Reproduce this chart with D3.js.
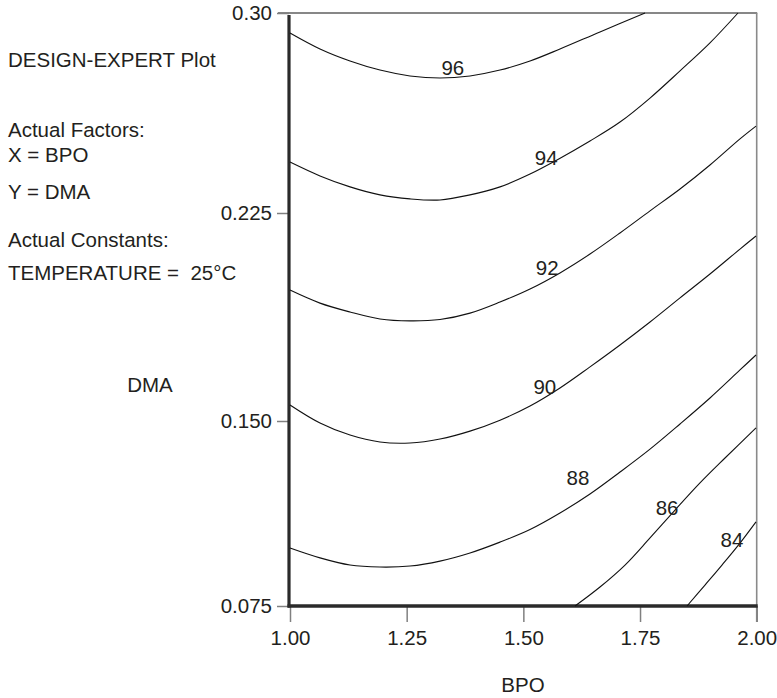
<!DOCTYPE html>
<html>
<head>
<meta charset="utf-8">
<script src="https://cdn.jsdelivr.net/npm/d3@7"></script>
<style>
  html, body { margin: 0; padding: 0; background: #fff; }
  svg { display: block; font-family: "Liberation Sans", Arial, sans-serif; }
</style>
</head>
<body>
<svg id="chart" width="777" height="698"></svg>
<script>
// Axis ticks
const bpoTicks = [1.00, 1.25, 1.50, 1.75, 2.00];
const bpoTickLabels = ["1.00", "1.25", "1.50", "1.75", "2.00"];
const dmaTicks = [0.075, 0.150, 0.225, 0.30];
const dmaTickLabels = ["0.075", "0.150", "0.225", "0.30"];

// Contour levels of the response and where each level label sits (BPO, DMA)
const levels = [96, 94, 92, 90, 88, 86, 84];
const labelBPO = [1.349, 1.549, 1.551, 1.546, 1.617, 1.808, 1.947];
const labelDMA = [0.2794, 0.2456, 0.2052, 0.1623, 0.1269, 0.1147, 0.1018];

// Contour traces: BPO values and matching DMA values for each level
const c96BPO = [1.000, 1.0643, 1.1286, 1.1928, 1.2571, 1.3214, 1.3857, 1.4500, 1.5143, 1.5785, 1.6642, 1.7607];
const c96DMA = [0.2925, 0.2865, 0.2820, 0.2786, 0.2764, 0.2756, 0.2764, 0.2786, 0.2820, 0.2865, 0.2929, 0.3000];
const c94BPO = [1.000, 1.0643, 1.1286, 1.1928, 1.2571, 1.3214, 1.3857, 1.4500, 1.5143, 1.5721, 1.6428, 1.7071, 1.7714, 1.8357, 1.8999, 1.9599];
const c94DMA = [0.2441, 0.2389, 0.2348, 0.2318, 0.2303, 0.2299, 0.2318, 0.2348, 0.2396, 0.2449, 0.2520, 0.2591, 0.2681, 0.2783, 0.2888, 0.3000];
const c92BPO = [1.000, 1.0643, 1.1286, 1.1928, 1.2571, 1.3214, 1.3857, 1.4500, 1.5143, 1.5785, 1.6428, 1.7071, 1.7714, 1.8357, 1.8999, 1.9642, 1.9985];
const c92DMA = [0.1972, 0.1925, 0.1893, 0.1868, 0.1861, 0.1866, 0.1889, 0.1929, 0.1976, 0.2034, 0.2102, 0.2178, 0.2258, 0.2340, 0.2430, 0.2528, 0.2576];
const c90BPO = [1.000, 1.0643, 1.1286, 1.1928, 1.2571, 1.3214, 1.3857, 1.4500, 1.5143, 1.5785, 1.6428, 1.7071, 1.7714, 1.8357, 1.8999, 1.9642, 1.9985];
const c90DMA = [0.1558, 0.1492, 0.1443, 0.1415, 0.1411, 0.1427, 0.1459, 0.1503, 0.1554, 0.1619, 0.1695, 0.1774, 0.1857, 0.1944, 0.2030, 0.2120, 0.2167];
const c88BPO = [1.000, 1.0643, 1.1286, 1.1928, 1.2571, 1.3214, 1.3857, 1.4500, 1.5143, 1.5785, 1.6428, 1.7071, 1.7714, 1.8357, 1.8999, 1.9642, 1.9985];
const c88DMA = [0.0985, 0.0945, 0.0916, 0.0908, 0.0912, 0.0932, 0.0965, 0.1009, 0.1060, 0.1127, 0.1204, 0.1293, 0.1386, 0.1488, 0.1583, 0.1684, 0.1738];
const c86BPO = [1.6107, 1.6642, 1.7178, 1.7714, 1.8250, 1.8785, 1.9321, 1.9985];
const c86DMA = [0.0750, 0.0827, 0.0916, 0.1026, 0.1139, 0.1249, 0.1350, 0.1472];
const c84BPO = [1.8507, 1.8892, 1.9256, 1.9642, 1.9985];
const c84DMA = [0.0750, 0.0835, 0.0916, 0.1005, 0.1091];

const traces = [
  [c96BPO, c96DMA], [c94BPO, c94DMA], [c92BPO, c92DMA], [c90BPO, c90DMA],
  [c88BPO, c88DMA], [c86BPO, c86DMA], [c84BPO, c84DMA]
];

// Side notes
const notes = [
  ["DESIGN-EXPERT Plot", 67],
  ["Actual Factors:", 137],
  ["X = BPO", 162],
  ["Y = DMA", 199],
  ["Actual Constants:", 247],
  ["TEMPERATURE =  25\u00B0C", 280]
];

const svg = d3.select("#chart");
const ink = "#231f20";
const fontSize = 20.5;
const fontFamily = "Liberation Sans, Arial, sans-serif";

const x = d3.scaleLinear().domain([1.0, 2.0]).range([290, 756.7]);
const y = d3.scaleLinear().domain(dmaTicks).range([606, 421, 213, 13]);

const [x0, x1] = x.range();
const yTop = y(0.30), yBot = y(0.075);

// Frame: thin top rule and light right rule
svg.append("line")
  .attr("x1", x0 - 12).attr("x2", x1 + 0.5)
  .attr("y1", yTop).attr("y2", yTop)
  .attr("stroke", "#111").attr("stroke-width", 1.2);
svg.append("line")
  .attr("x1", x1).attr("x2", x1)
  .attr("y1", yTop).attr("y2", yBot + 16)
  .attr("stroke", "#8a8a8a").attr("stroke-width", 1.6);

// Y axis ticks and labels
const yAxis = d3.axisLeft(y).tickValues(dmaTicks)
  .tickFormat((d, i) => dmaTickLabels[i])
  .tickSize(12).tickPadding(5);
const gy = svg.append("g").attr("transform", `translate(${x0 - 1},0)`).call(yAxis);
gy.select(".domain").remove();
gy.selectAll(".tick line").attr("stroke", "#808080").attr("stroke-width", 1.5);
gy.selectAll(".tick text").attr("fill", ink).attr("font-size", fontSize)
  .attr("font-family", fontFamily).attr("dy", "0.34em");

// X axis ticks and labels
const xAxis = d3.axisBottom(x).tickValues(bpoTicks)
  .tickFormat((d, i) => bpoTickLabels[i])
  .tickSize(16).tickPadding(8);
const gx = svg.append("g").attr("transform", `translate(0,${yBot})`).call(xAxis);
gx.select(".domain").remove();
gx.selectAll(".tick line").attr("stroke", "#808080").attr("stroke-width", 1.5);
gx.selectAll(".tick text").attr("fill", ink).attr("font-size", fontSize)
  .attr("font-family", fontFamily);

// Heavy left and bottom axis rules
svg.append("line")
  .attr("x1", x0 - 1).attr("x2", x0 - 1)
  .attr("y1", yTop + 2).attr("y2", yBot + 1.5)
  .attr("stroke", "#2a2a2a").attr("stroke-width", 3.2);
svg.append("line")
  .attr("x1", x0 - 2.5).attr("x2", x1 + 1)
  .attr("y1", yBot).attr("y2", yBot)
  .attr("stroke", "#2a2a2a").attr("stroke-width", 3.4);

// Contour lines
const line = d3.line()
  .x(d => x(d[0])).y(d => y(d[1]))
  .curve(d3.curveCatmullRom.alpha(0.5));

svg.append("g").selectAll("path")
  .data(traces)
  .join("path")
  .attr("d", t => line(t[0].map((b, i) => [b, t[1][i]])))
  .attr("fill", "none")
  .attr("stroke", "#111")
  .attr("stroke-width", 1.1);

// Contour level labels
svg.append("g").selectAll("text")
  .data(levels)
  .join("text")
  .attr("x", (d, i) => x(labelBPO[i]))
  .attr("y", (d, i) => y(labelDMA[i]))
  .attr("dy", "0.35em")
  .attr("text-anchor", "middle")
  .attr("font-size", fontSize)
  .attr("fill", ink)
  .text(d => d);

// Notes block
svg.append("g").selectAll("text")
  .data(notes)
  .join("text")
  .attr("x", 8)
  .attr("y", d => d[1])
  .attr("font-size", fontSize)
  .attr("fill", ink)
  .attr("xml:space", "preserve")
  .style("white-space", "pre")
  .text(d => d[0]);

// Axis titles
svg.append("text")
  .attr("x", 150).attr("y", 392)
  .attr("text-anchor", "middle")
  .attr("font-size", fontSize).attr("fill", ink)
  .text("DMA");
svg.append("text")
  .attr("x", 523).attr("y", 692)
  .attr("text-anchor", "middle")
  .attr("font-size", fontSize).attr("fill", ink)
  .text("BPO");
</script>
</body>
</html>
